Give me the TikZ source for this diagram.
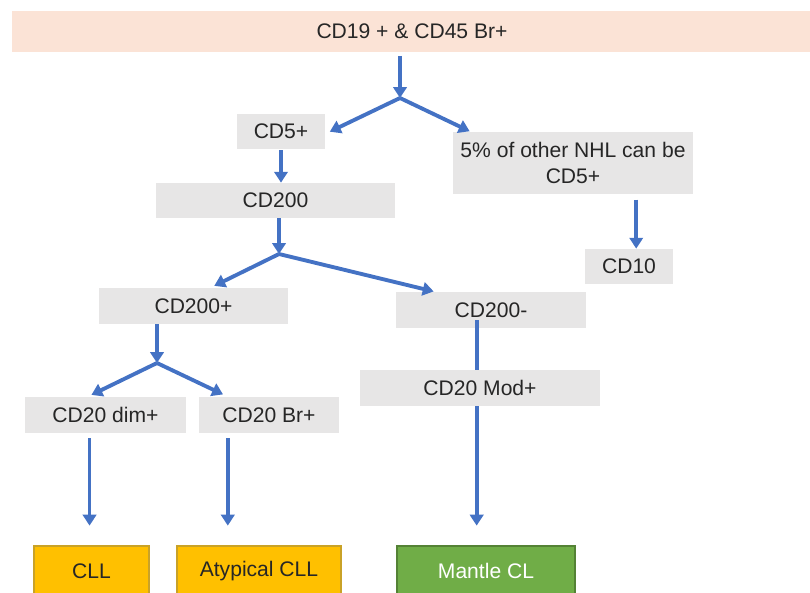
\documentclass[tikz,border=0pt]{standalone}
\usepackage{fontspec}
\setmainfont{Liberation Sans}
\usetikzlibrary{arrows.meta}
\definecolor{peach}{HTML}{FBE3D6}
\definecolor{boxgray}{HTML}{E7E6E6}
\definecolor{arrblue}{HTML}{4472C4}
\definecolor{gold}{HTML}{FFC000}
\definecolor{golddark}{HTML}{C9A227}
\definecolor{leafgreen}{HTML}{70AD47}
\definecolor{greendark}{HTML}{548235}
\definecolor{inkgray}{HTML}{262626}
\begin{document}
\begin{tikzpicture}[x=0.02cm, y=-0.02cm,
    font=\fontsize{12}{15}\selectfont, text=inkgray,
    box/.style={fill=boxgray, inner sep=0pt, minimum height=0.72cm, align=center},
    leaf/.style={draw=golddark, fill=gold, line width=0.6pt, inner sep=0pt, minimum height=1cm},
    arr/.style={arrblue, line width=2.2pt, -{Triangle[width=7.6pt, length=6.2pt]}},
    line/.style={arrblue, line width=2.2pt}]
    \useasboundingbox (0,0) rectangle (810,592);
    \clip (0,0) rectangle (810,592);

    % Draw the top box
    \node[box, fill=peach, minimum width=16cm, minimum height=0.82cm] (top) at (412,31.5) {CD19 + \& CD45 Br+};

    % Draw the marker boxes
    \node[box, minimum width=1.76cm, minimum height=0.7cm] (cd5) at (281,131.5) {CD5+};
    \node[box, minimum width=4.8cm, minimum height=1.24cm] (nhl) at (573,163) {5\% of other NHL can be\\CD5+};
    \node[box, minimum width=4.78cm, minimum height=0.7cm] (cd200) at (275.5,200.5) {CD200};
    \node[box, minimum width=1.76cm, minimum height=0.7cm] (cd10) at (629,266.5) {CD10};
    \node[box, minimum width=3.78cm] (pos) at (193.5,306) {CD200+};
    \node[box, minimum width=3.8cm] (neg) at (491,310) {CD200-};
    \node[box, minimum width=3.22cm] (dim) at (105.5,415) {CD20 dim+};
    \node[box, minimum width=2.8cm] (br) at (269,415) {CD20 Br+};

    % Draw the result boxes
    \node[leaf, minimum width=2.3cm] (cll) at (91.5,571) {CLL};
    \node[leaf, minimum width=3.28cm] (acll) at (259,571) {Atypical CLL};
    \node[leaf, draw=greendark, fill=leafgreen, text=white, minimum width=3.56cm] (mcl) at (486,571) {Mantle CL};

    % Draw the branch points
    \coordinate (j1) at (400,98);
    \coordinate (j2) at (279,254);
    \coordinate (j3) at (157,363);

    % Draw the arrows
    \draw[arr, shorten <=2pt] (top.south -| j1) -- (j1);
    \draw[arr, shorten >=2.8pt] (j1) -- (cd5.-3);
    \draw[arr, shorten >=0.5pt] (j1) -- (nhl.163);
    \draw[arr, shorten <=0.4pt] (cd5.south) -- (cd5.south |- cd200.north);
    \draw[arr, shorten <=3pt] (nhl.south -| cd10.68) -- (cd10.68);
    \draw[arr] (cd200.south -| j2) -- (j2);
    \draw[arr, shorten >=2.3pt] (j2) -- (pos.47);
    \draw[arr, shorten >=0.5pt] (j2) -- (neg.162);
    \draw[arr] (pos.south -| j3) -- (j3);
    \draw[arr, shorten >=2.3pt] (j3) -- (dim.134);
    \draw[arr, shorten >=3pt] (j3) -- (br.156);
    \draw[arr, shorten <=2.8pt, shorten >=11.3pt] (dim.229) -- (dim.229 |- cll.north);
    \draw[arr, shorten <=2.8pt, shorten >=11.3pt] (br.204) -- (br.204 |- acll.north);
    \draw[arr, shorten <=-4.5pt, shorten >=11.3pt] (neg.232) -- (neg.232 |- mcl.north);

    % Draw the box over the last line
    \node[box, minimum width=4.8cm] (mod) at (480,388) {CD20 Mod+};
\end{tikzpicture}
\end{document}
